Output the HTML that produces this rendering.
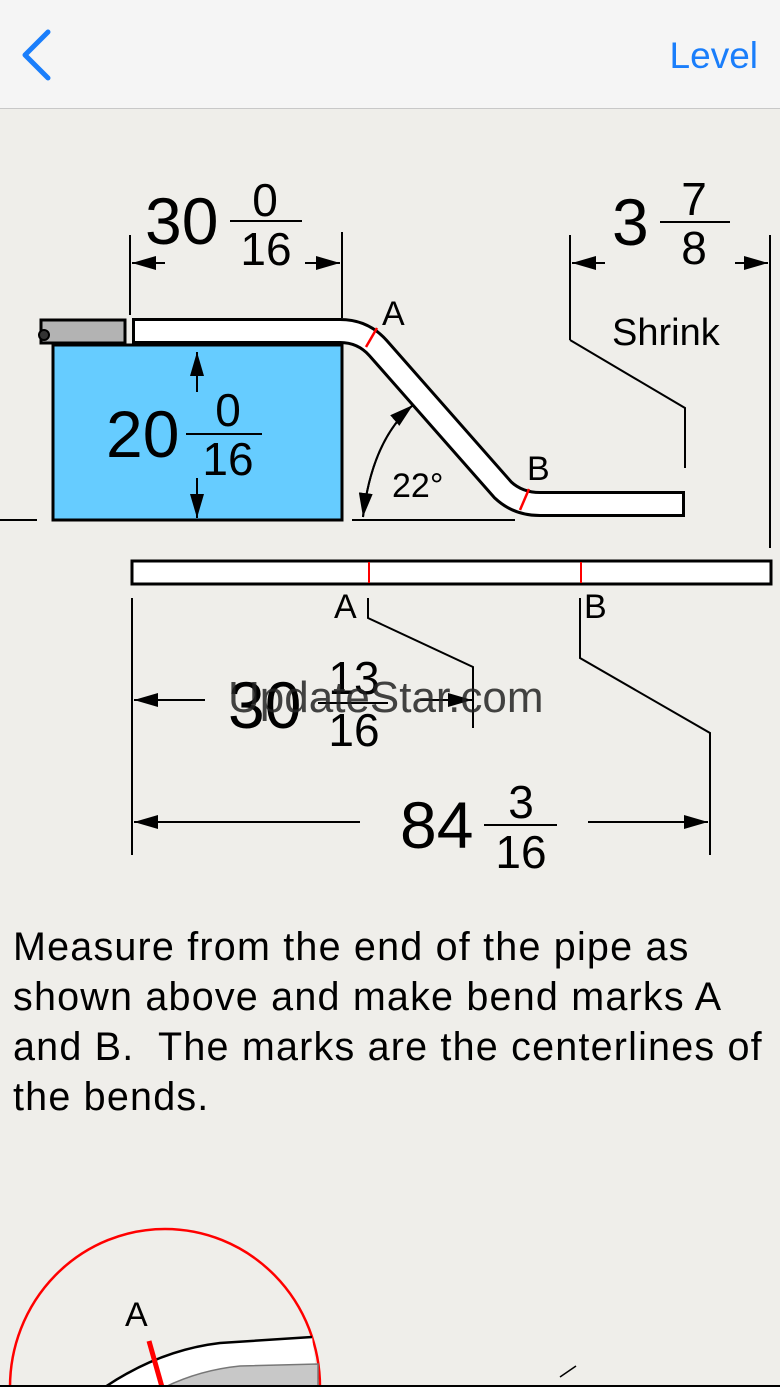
<!DOCTYPE html>
<html><head><style>
html,body{margin:0;width:780px;height:1387px;overflow:hidden;}
body{background:#efeeea;font-family:"Liberation Sans",sans-serif;position:relative;}
.nav{position:absolute;left:0;top:0;width:780px;height:108px;background:#f5f5f5;border-bottom:1px solid #c8c8c8;}
.p{position:absolute;left:13px;top:922px;font-size:39.5px;letter-spacing:1.2px;line-height:50px;color:#000;white-space:nowrap;}
</style></head><body>
<div class="nav">
<svg width="780" height="108" style="position:absolute;left:0;top:0"><polyline points="48,32 25,55 48,78" fill="none" stroke="#1a7efb" stroke-width="5" stroke-linecap="round" stroke-linejoin="round"/>
<text x="758" y="68" text-anchor="end" font-size="37" fill="#1a7efb" font-family="Liberation Sans">Level</text></svg>
</div>
<svg width="780" height="1387" style="position:absolute;left:0;top:0" font-family="Liberation Sans">
<defs>
<marker id="ar2" markerWidth="24" markerHeight="14" refX="24" refY="7" orient="auto" markerUnits="userSpaceOnUse"><path d="M0,0 L24,7 L0,14 z" fill="#000"/></marker></defs>
<g stroke="#000" stroke-width="2" fill="none">
<line x1="130" y1="235" x2="130" y2="315"/><line x1="342" y1="232" x2="342" y2="318"/>
<line x1="165" y1="263" x2="132" y2="263" marker-end="url(#ar2)"/><line x1="305" y1="263" x2="340" y2="263" marker-end="url(#ar2)"/>
<line x1="570" y1="235" x2="570" y2="340"/><line x1="770" y1="235" x2="770" y2="548"/>
<line x1="605" y1="263" x2="572" y2="263" marker-end="url(#ar2)"/><line x1="735" y1="263" x2="768" y2="263" marker-end="url(#ar2)"/>
<polyline points="570,340 685,408 685,468"/>
<line x1="0" y1="520" x2="37" y2="520"/><line x1="352" y1="520" x2="515" y2="520"/>
<path d="M363,517 Q372,440 413,405" marker-end="url(#ar2)"/>
<path d="M413,405 Q372,440 363,517" marker-end="url(#ar2)"/>
</g>
<rect x="53" y="345" width="289" height="175" fill="#66ccff" stroke="#000" stroke-width="3"/>
<g stroke="#000" stroke-width="2"><line x1="197" y1="392" x2="197" y2="352" marker-end="url(#ar2)"/><line x1="197" y1="478" x2="197" y2="518" marker-end="url(#ar2)"/></g>
<rect x="41" y="320" width="84" height="23" fill="#b3b3b3" stroke="#000" stroke-width="3"/>
<circle cx="44" cy="335" r="5" fill="#333" stroke="#000" stroke-width="2"/>
<path d="M132,331 L340,331 Q363,331 378,348 L503,490 Q518,504 540,504 L685,504" fill="none" stroke="#000" stroke-width="26"/>
<path d="M135,331 L340,331 Q363,331 378,348 L503,490 Q518,504 540,504 L682,504" fill="none" stroke="#fff" stroke-width="20"/>
<line x1="377" y1="328" x2="366" y2="347" stroke="#f00" stroke-width="2.5"/>
<line x1="529" y1="489" x2="520" y2="510" stroke="#f00" stroke-width="2.5"/>
<text x="382" y="325" font-size="34">A</text><text x="527" y="480" font-size="34">B</text>
<text x="392" y="497" font-size="34">22°</text>
<text x="612" y="345" font-size="38">Shrink</text>
<g font-size="66"><text x="145" y="244">30</text><text x="106" y="457">20</text><text x="612" y="245">3</text><text x="400" y="848">84</text><text x="228" y="728">30</text></g>
<g font-size="46" text-anchor="middle">
<text x="265" y="216">0</text><text x="266" y="265">16</text>
<text x="228" y="426">0</text><text x="228" y="475">16</text>
<text x="694" y="215">7</text><text x="694" y="264">8</text>
<text x="521" y="818">3</text><text x="521" y="868">16</text>
<text x="354" y="694">13</text><text x="354" y="746">16</text>
</g>
<g stroke="#000" stroke-width="2">
<line x1="230" y1="221" x2="302" y2="221"/><line x1="186" y1="434" x2="262" y2="434"/><line x1="660" y1="222" x2="730" y2="222"/><line x1="484" y1="825" x2="557" y2="825"/><line x1="318" y1="703" x2="388" y2="703"/>
</g>
<rect x="132" y="561" width="639" height="23" fill="#fff" stroke="#000" stroke-width="3"/>
<line x1="369" y1="562" x2="369" y2="583" stroke="#f00" stroke-width="2"/><line x1="581" y1="562" x2="581" y2="583" stroke="#f00" stroke-width="2"/>
<text x="334" y="618" font-size="34">A</text><text x="584" y="618" font-size="34">B</text>
<g stroke="#000" stroke-width="2" fill="none">
<line x1="132" y1="598" x2="132" y2="855"/><line x1="710" y1="735" x2="710" y2="855"/>
<polyline points="368,598 368,618 473,667 473,728"/>
<polyline points="580,598 580,658 710,733 710,735"/>
<line x1="205" y1="700" x2="134" y2="700" marker-end="url(#ar2)"/><line x1="420" y1="700" x2="472" y2="700" marker-end="url(#ar2)"/>
<line x1="360" y1="822" x2="134" y2="822" marker-end="url(#ar2)"/><line x1="588" y1="822" x2="708" y2="822" marker-end="url(#ar2)"/>
</g>
<text x="228" y="712" font-size="44" fill="#222" fill-opacity="0.85">UpdateStar.com</text>
<ellipse cx="165" cy="1387" rx="155" ry="158" fill="none" stroke="#f00" stroke-width="2.5"/>
<path d="M105,1387 Q160,1350 220,1343 L312,1337 L318,1387 Z" fill="#fff" stroke="none"/>
<path d="M105,1387 Q160,1350 220,1343 L312,1337" fill="none" stroke="#000" stroke-width="2.5"/>
<path d="M165,1387 Q200,1370 240,1366 L318,1364 L318,1387 Z" fill="#c8c8c8" stroke="#777" stroke-width="1.5"/>
<line x1="149" y1="1341" x2="162" y2="1387" stroke="#f00" stroke-width="5"/>
<text x="125" y="1326" font-size="34">A</text>
<line x1="560" y1="1377" x2="576" y2="1366" stroke="#000" stroke-width="1.5"/>
<line x1="0" y1="1386" x2="780" y2="1386" stroke="#000" stroke-width="2"/>
</svg>
<div class="p">Measure from the end of the pipe as<br>shown above and make bend marks A<br>and B.&nbsp; The marks are the centerlines of<br>the bends.</div>
</body></html>
